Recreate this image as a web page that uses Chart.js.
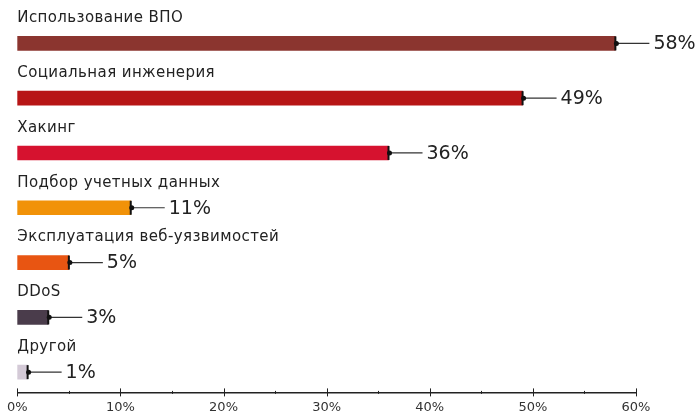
<!DOCTYPE html>
<html>
<head>
<meta charset="utf-8">
<script src="https://cdn.jsdelivr.net/npm/chart.js@4"></script>
<style>
  html, body { margin: 0; padding: 0; background: #fff; }
  #wrap { width: 698px; height: 412px; }
</style>
</head>
<body>
<div id="wrap"><canvas id="attack-chart"></canvas></div>
<script>
const categories = ['Использование ВПО', 'Социальная инженерия', 'Хакинг', 'Подбор учетных данных', 'Эксплуатация веб-уязвимостей', 'DDoS', 'Другой'];
const shares = [58, 49, 36, 11, 5, 3, 1];
const barColors = ['#8b352f', '#b71516', '#d6122f', '#f19208', '#e85512', '#4a3c4b', '#d4cad7'];
const xTicks = [0, 10, 20, 30, 40, 50, 60];

const FONT = '"DejaVu Sans", sans-serif';
const INK = '#222';

// names above bars, leader lines with end markers, values, axis tick marks
const decorations = {
    id: 'decorations',
    afterDatasetsDraw(chart) {
        const ctx = chart.ctx;
        const xs = chart.scales.x;
        const meta = chart.getDatasetMeta(0);
        ctx.save();
        ctx.textBaseline = 'middle';
        ctx.textAlign = 'left';
        meta.data.forEach((bar, i) => {
            const y = bar.y;
            const x = bar.x;
            const h = bar.height;
            ctx.fillStyle = INK;
            ctx.font = '15px ' + FONT;
            ctx.letterSpacing = '0.4px';
            ctx.fillText(categories[i], xs.left, y - 25);
            ctx.letterSpacing = '0px';

            ctx.strokeStyle = '#333';
            ctx.lineWidth = 1.2;
            ctx.beginPath();
            ctx.moveTo(x, y);
            ctx.lineTo(x + 34, y);
            ctx.stroke();

            ctx.fillStyle = '#111';
            ctx.fillRect(x - 1, y - h / 2, 2, h);
            ctx.beginPath();
            ctx.arc(x + 1, y, 2.5, 0, Math.PI * 2);
            ctx.fill();

            ctx.fillStyle = INK;
            ctx.font = '19px ' + FONT;
            ctx.fillText(shares[i] + '%', x + 38, y + 1);
        });
        const yb = xs.top;
        ctx.strokeStyle = '#222';
        ctx.lineWidth = 1;
        for (let v = 0; v <= 60; v += 5) {
            const px = Math.round(xs.getPixelForValue(v)) + 0.5;
            const len = v % 10 === 0 ? 4 : 1.5;
            ctx.beginPath();
            ctx.moveTo(px, yb - len);
            ctx.lineTo(px, yb + len);
            ctx.stroke();
        }
        ctx.restore();
    }
};

new Chart(document.getElementById('attack-chart'), {
    type: 'bar',
    data: {
        datasets: [{
            data: shares.map((v, i) => ({ x: v, y: i })),
            backgroundColor: barColors,
            borderWidth: 0,
            barThickness: 14
        }]
    },
    options: {
        indexAxis: 'y',
        responsive: true,
        maintainAspectRatio: false,
        animation: false,
        layout: {
            padding: { left: 15.5, right: 62, top: 16, bottom: -10 }
        },
        plugins: {
            legend: { display: false },
            tooltip: { enabled: false }
        },
        scales: {
            y: {
                type: 'linear',
                reverse: true,
                offset: false,
                min: -0.5,
                max: 6.37,
                bounds: 'data',
                display: false
            },
            x: {
                type: 'linear',
                min: 0,
                max: 60,
                grid: { display: false, drawTicks: false, tickLength: 0 },
                border: { display: true, color: '#222', width: 1.5 },
                ticks: {
                    padding: 7,
                    color: '#333',
                    font: { family: FONT, size: 13 },
                    callback: v => v + '%'
                },
                afterBuildTicks: scale => { scale.ticks = xTicks.map(v => ({ value: v })); }
            }
        }
    },
    plugins: [decorations]
});
</script>
</body>
</html>
